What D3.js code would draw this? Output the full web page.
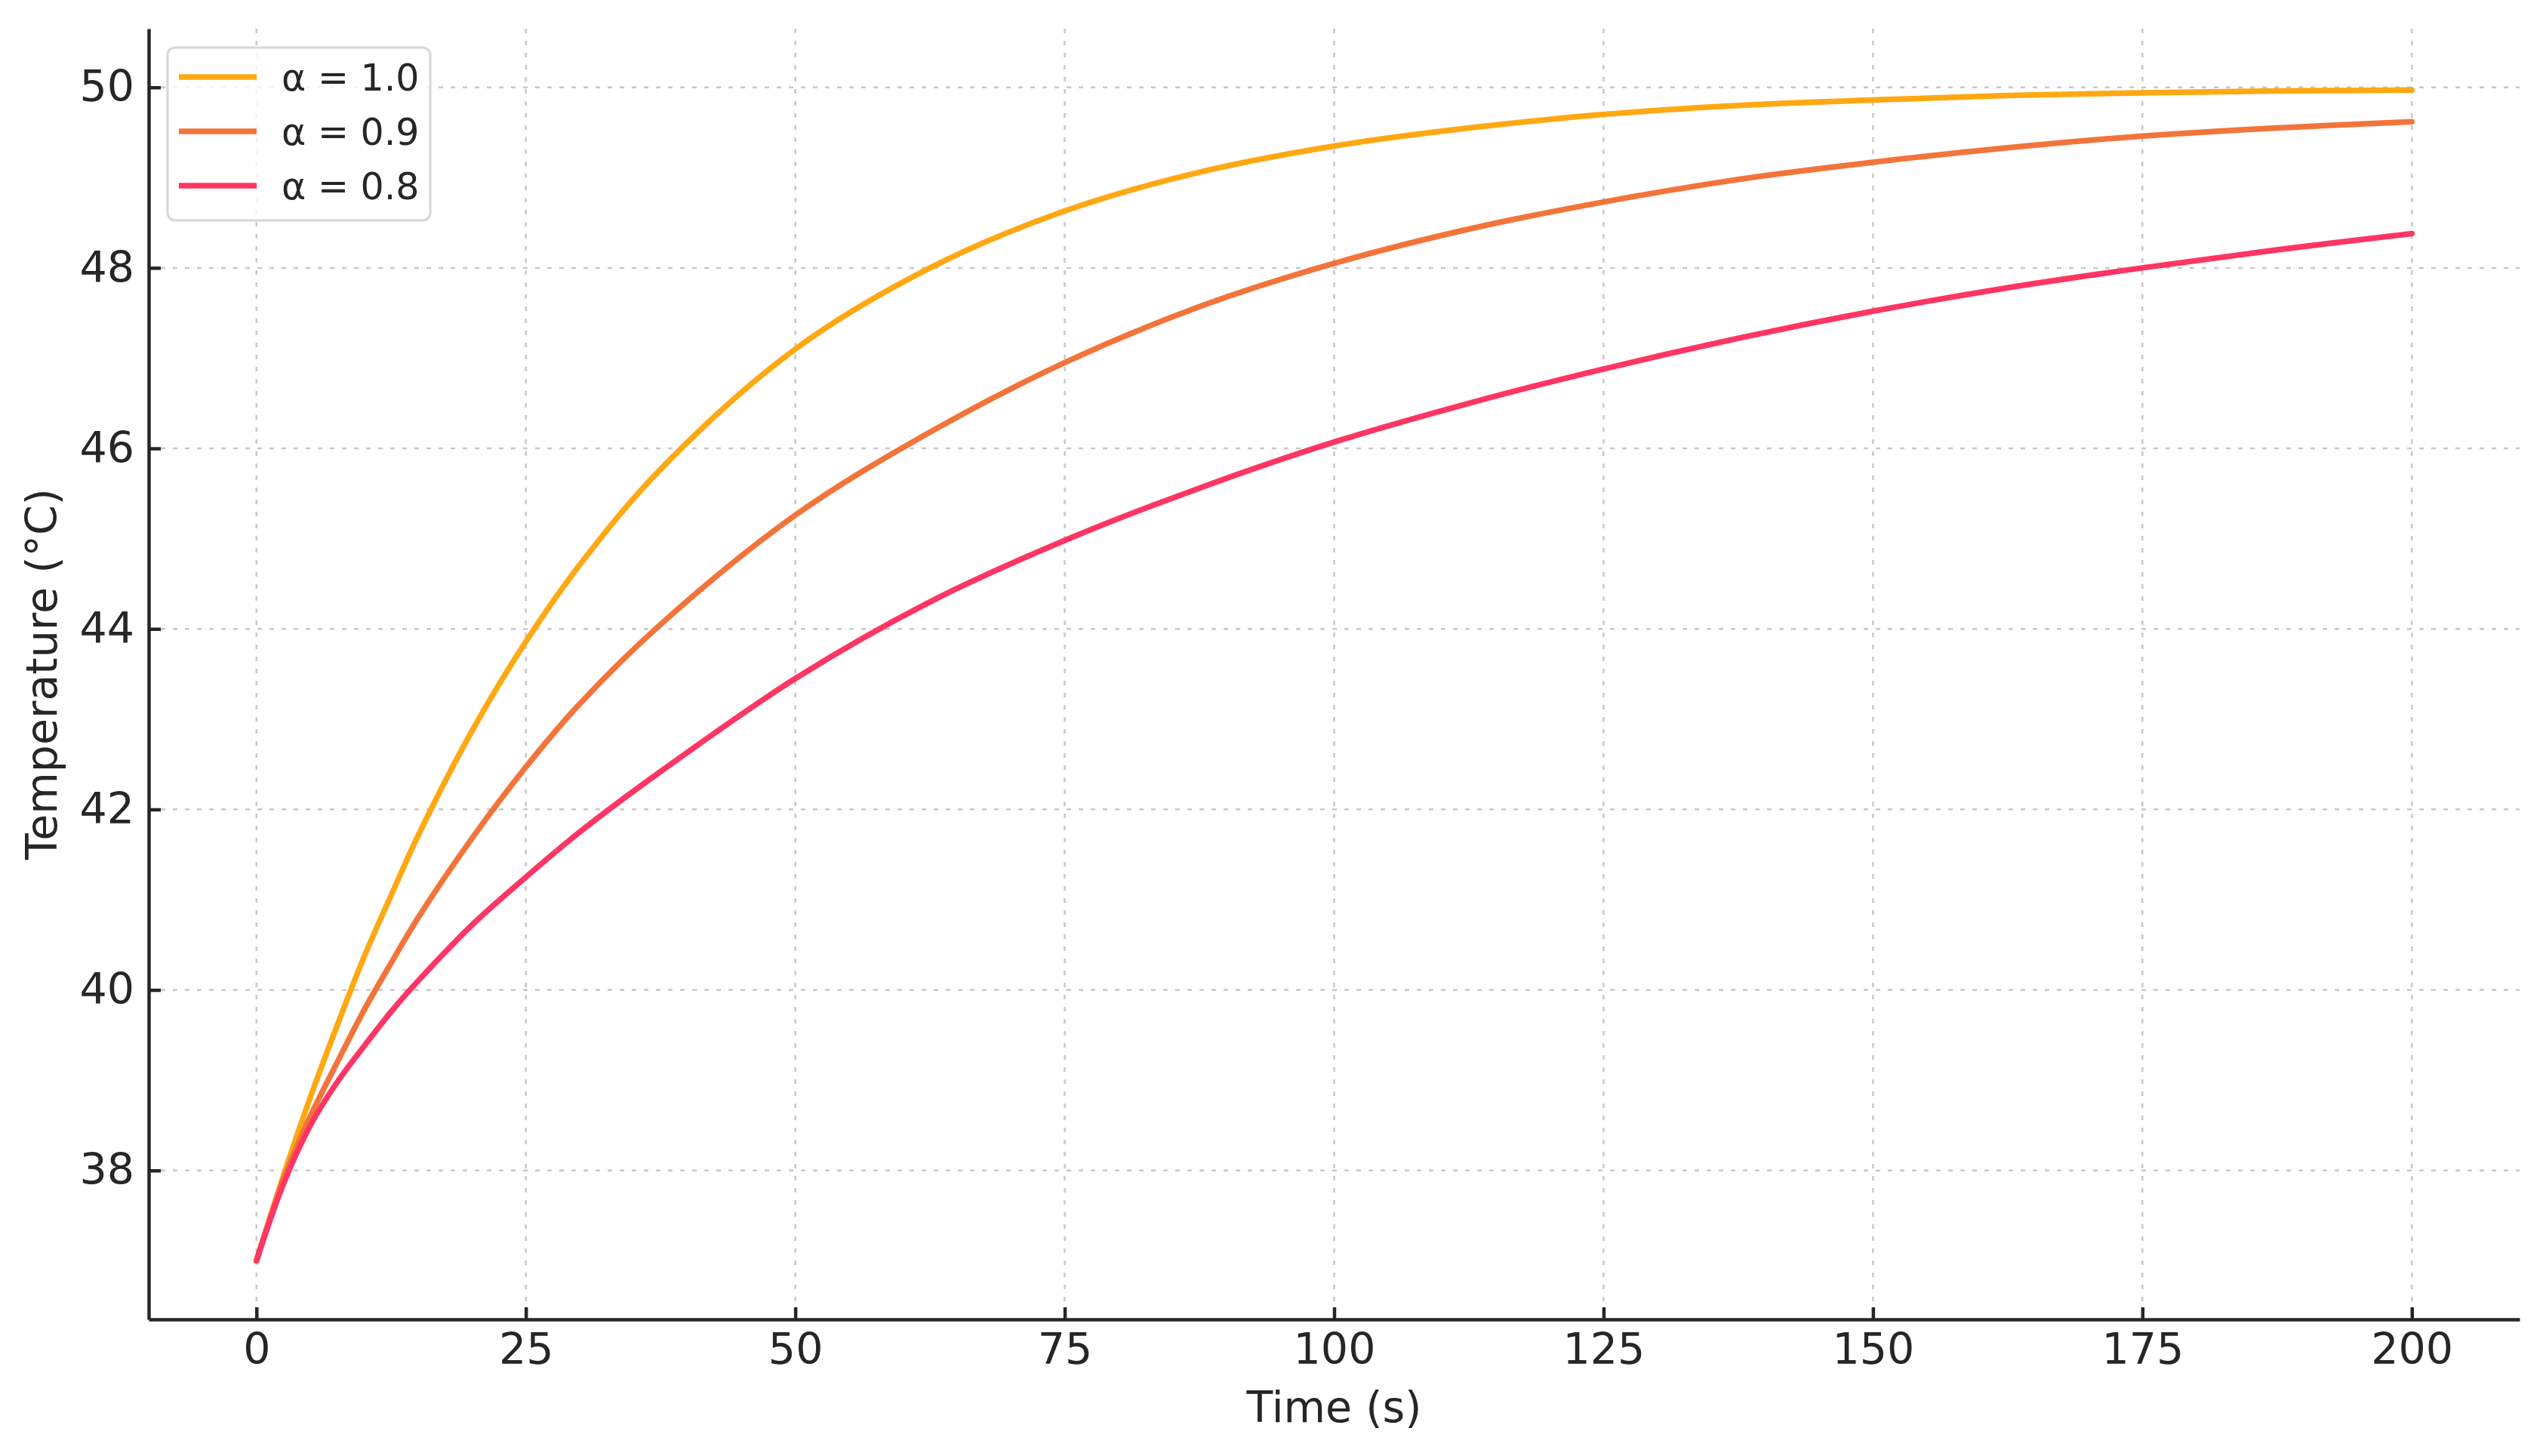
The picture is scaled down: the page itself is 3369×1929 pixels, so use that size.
<!DOCTYPE html>
<html>
<head>
<meta charset="utf-8">
<script src="https://cdn.jsdelivr.net/npm/d3@7"></script>
<style>
  body { margin: 0; background: #fff; }
  text { font-family: "DejaVu Sans", sans-serif; fill: #262626; }
</style>
</head>
<body>
<div id="chart"></div>
<script>
// time axis (s) and temperature readings for each alpha
const timeS = [0, 2.5, 5, 7.5, 10, 12.5, 15, 20, 25, 30, 37.5, 50, 62.5, 75, 87.5, 100, 112.5, 125, 137.5, 150, 162.5, 175, 187.5, 200];
const tempAlpha10 = [37.0, 37.94, 38.81, 39.61, 40.37, 41.05, 41.71, 42.87, 43.86, 44.71, 45.77, 47.10, 48.00, 48.63, 49.06, 49.35, 49.55, 49.70, 49.80, 49.86, 49.91, 49.94, 49.96, 49.97];
const tempAlpha09 = [37.0, 37.9, 38.6, 39.2, 39.78, 40.3, 40.8, 41.68, 42.47, 43.17, 44.05, 45.26, 46.18, 46.95, 47.57, 48.05, 48.43, 48.73, 48.98, 49.17, 49.33, 49.46, 49.55, 49.62];
const tempAlpha08 = [37.0, 37.85, 38.5, 38.98, 39.38, 39.76, 40.1, 40.72, 41.25, 41.75, 42.42, 43.45, 44.30, 44.98, 45.56, 46.07, 46.5, 46.88, 47.22, 47.52, 47.78, 48.0, 48.2, 48.38];

const seriesNames = ["α = 1.0", "α = 0.9", "α = 0.8"];
const seriesValues = [tempAlpha10, tempAlpha09, tempAlpha08];
const colours = ["#ffa812", "#f3743a", "#ff3563"];

const xTicks = [0, 25, 50, 75, 100, 125, 150, 175, 200];
const yTicks = [38, 40, 42, 44, 46, 48, 50];

const W = 3369, H = 1929;
const plot = { left: 197, right: 3338, top: 38, bottom: 1748 };

const svg = d3.select("#chart").append("svg")
    .attr("width", W)
    .attr("height", H);

const x = d3.scaleLinear().domain([-10, 210]).range([plot.left, plot.right]);
const y = d3.scaleLinear().domain([36.35, 50.65]).range([plot.bottom, plot.top]);

// grid
const grid = svg.append("g").attr("class", "grid");
grid.selectAll(".gx").data(xTicks).enter().append("line")
    .attr("x1", d => x(d)).attr("x2", d => x(d))
    .attr("y1", plot.top).attr("y2", plot.bottom)
    .attr("stroke", "#c8c8c8").attr("stroke-width", 2.5)
    .attr("stroke-dasharray", "6,10");
grid.selectAll(".gy").data(yTicks).enter().append("line")
    .attr("x1", plot.left).attr("x2", plot.right)
    .attr("y1", d => y(d)).attr("y2", d => y(d))
    .attr("stroke", "#c8c8c8").attr("stroke-width", 2.5)
    .attr("stroke-dasharray", "6,10");

// curves
const line = d3.line()
    .x(d => x(d[0]))
    .y(d => y(d[1]))
    .curve(d3.curveCatmullRom.alpha(0.5));

seriesValues.forEach((vals, i) => {
    svg.append("path")
        .datum(timeS.map((t, j) => [t, vals[j]]))
        .attr("fill", "none")
        .attr("stroke", colours[i])
        .attr("stroke-width", 7.5)
        .attr("stroke-linecap", "round")
        .attr("d", line);
});

// axes
const xAxis = svg.append("g")
    .attr("transform", "translate(0," + plot.bottom + ")")
    .call(d3.axisBottom(x).tickValues(xTicks).tickSizeInner(-16).tickSizeOuter(0).tickPadding(19));
const yAxis = svg.append("g")
    .attr("transform", "translate(" + plot.left + ",0)")
    .call(d3.axisLeft(y).tickValues(yTicks).tickSizeInner(-16).tickSizeOuter(0).tickPadding(19));

[xAxis, yAxis].forEach(a => {
    a.select(".domain").attr("stroke", "#262626").attr("stroke-width", 4.5);
    a.selectAll(".tick line").attr("stroke", "#262626").attr("stroke-width", 4.5);
    a.selectAll(".tick text")
        .attr("font-family", "DejaVu Sans")
        .attr("font-size", 57)
        .attr("fill", "#262626");
});

// axis titles
svg.append("text")
    .attr("x", (plot.left + plot.right) / 2)
    .attr("y", 1884)
    .attr("text-anchor", "middle")
    .attr("font-size", 57)
    .text("Time (s)");

svg.append("text")
    .attr("transform", "translate(75," + (plot.top + plot.bottom) / 2 + ") rotate(-90)")
    .attr("text-anchor", "middle")
    .attr("font-size", 57)
    .text("Temperature (°C)");

// legend
const lg = svg.append("g").attr("transform", "translate(222,63)");
lg.append("rect")
    .attr("width", 348).attr("height", 229)
    .attr("rx", 10).attr("ry", 10)
    .attr("fill", "#fff").attr("fill-opacity", 0.8)
    .attr("stroke", "#d6d6d6").attr("stroke-width", 3);

const rows = lg.selectAll(".legend")
    .data(seriesNames)
    .enter().append("g")
    .attr("class", "legend")
    .attr("transform", (d, i) => "translate(0," + (39 + i * 72) + ")");

rows.append("line")
    .attr("x1", 15).attr("x2", 118)
    .attr("stroke", (d, i) => colours[i])
    .attr("stroke-width", 7.5);

rows.append("text")
    .attr("x", 151)
    .attr("dy", "0.36em")
    .attr("font-size", 49)
    .text(d => d);
</script>
</body>
</html>
